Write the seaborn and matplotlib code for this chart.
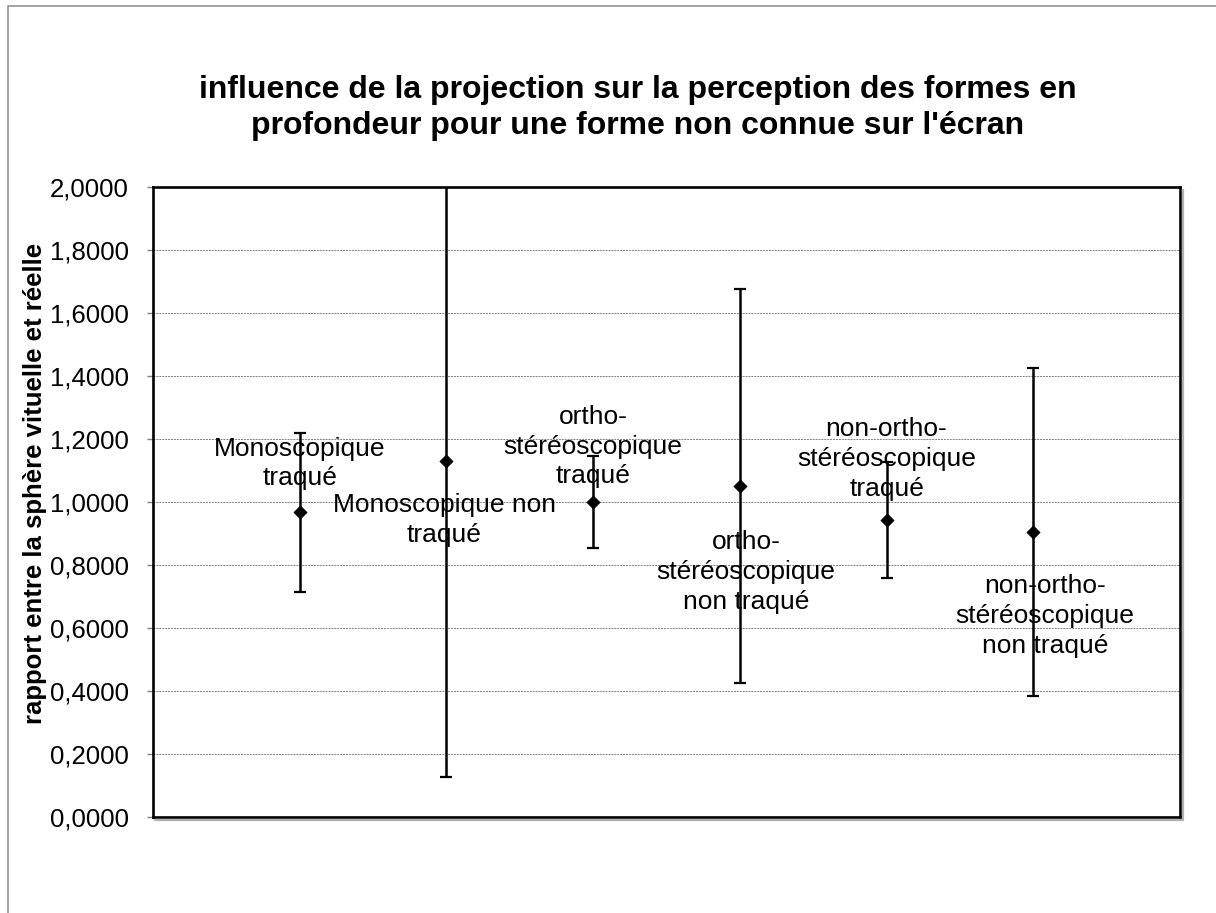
import numpy as np
import matplotlib.pyplot as plt
import seaborn as sns
from matplotlib.patches import Rectangle
from matplotlib.lines import Line2D
from matplotlib.ticker import FuncFormatter

# values
conditions = [
    "Monoscopique\ntraqué",
    "Monoscopique non\ntraqué",
    "ortho-\nstéréoscopique\ntraqué",
    "ortho-\nstéréoscopique\nnon traqué",
    "non-ortho-\nstéréoscopique\ntraqué",
    "non-ortho-\nstéréoscopique\nnon traqué",
]
ratio_mean = [0.968, 1.130, 1.000, 1.051, 0.943, 0.905]
ratio_err = [0.252, 1.003, 0.146, 0.626, 0.184, 0.522]

title = ("influence de la projection sur la perception des formes en\n"
         "profondeur pour une forme non connue sur l'écran")
ylabel = "rapport entre la sphère vituelle et réelle"

sns.set_theme(style="white")
plt.rcParams["font.family"] = ["Liberation Sans", "DejaVu Sans"]
plt.rcParams["text.color"] = "black"

fig = plt.figure(figsize=(12.16, 9.13), dpi=100)
x0, y0, w, h = 0.1258, 0.1051, 0.8446, 0.6900
ax = fig.add_axes([x0, y0, w, h])

# light grey shadow under the bottom and right of the plot frame
dx, dy = 2.5 / 1216, 2.5 / 913
fig.lines.append(Line2D([x0 + dx, x0 + w + dx, x0 + w + dx], [y0 - dy, y0 - dy, y0 + h - dy],
                        color="#b0b0b0", linewidth=1.6, transform=fig.transFigure, figure=fig))

xpos = np.arange(1, len(conditions) + 1)
ax.errorbar(xpos, ratio_mean, yerr=ratio_err, fmt="none", ecolor="black",
            elinewidth=1.8, capsize=4.3, capthick=1.6, zorder=2)
sns.scatterplot(x=xpos, y=ratio_mean, marker="D", s=45, color="black",
                edgecolor="black", linewidth=0.5, ax=ax, zorder=3, legend=False)

# data labels, alternately above / below the point (offsets in points)
label_offsets = [(0, 35), (-1.5, -42.5), (0, 40), (4.5, -62), (0, 44), (8.5, -60.5)]
for x, y, txt, off in zip(xpos, ratio_mean, conditions, label_offsets):
    ax.annotate(txt, (x, y), xytext=off, textcoords="offset points",
                ha="center", va="center", fontsize=19, color="black",
                linespacing=1.3, zorder=4)

ax.set_xlim(0, 7)
ax.set_ylim(0, 2)
ax.set_xticks([])
ax.set_yticks(np.arange(0, 2.01, 0.2))
ax.yaxis.set_major_formatter(FuncFormatter(lambda v, p: f"{v:.4f}".replace(".", ",")))
ax.tick_params(axis="y", left=True, direction="out", length=4.5, width=1,
               color="#808080", pad=13, labelsize=18.5, labelcolor="black")
ax.yaxis.grid(True, color="#808080", linestyle=(0, (2, 1)), linewidth=0.7)
ax.set_axisbelow(True)
for sp in ax.spines.values():
    sp.set_color("black")
    sp.set_linewidth(1.9)

fig.text(638 / 1216, 1 - 134 / 913, title, ha="center", va="baseline",
         fontsize=23, fontweight="bold", linespacing=1.25, color="black")
fig.text(35 / 1216, 1 - 483 / 913, ylabel, rotation=90, ha="center", va="center",
         fontsize=18.5, fontweight="bold", color="black")

# chart area border
fig.patches.append(Rectangle((8 / 1216, -0.1), 1.0, 1.1 - 6 / 913, fill=False,
                             edgecolor="#8c8c8c", linewidth=1.1,
                             transform=fig.transFigure, figure=fig))

fig.savefig("out.png", dpi=100)
